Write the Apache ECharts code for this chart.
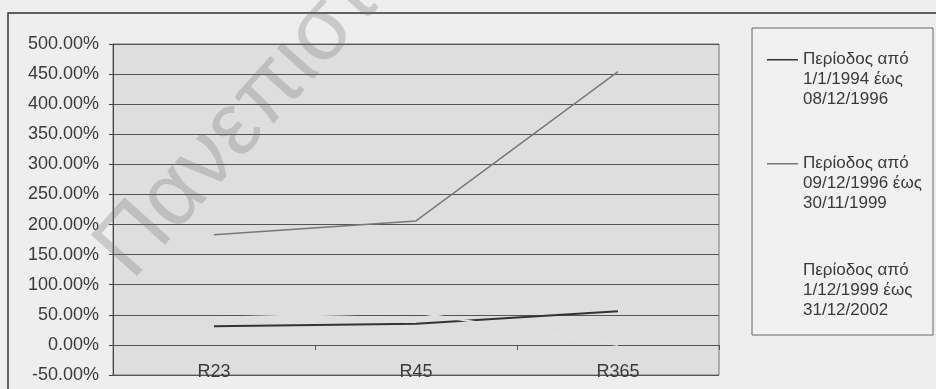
<!DOCTYPE html>
<html>
<head>
<meta charset="utf-8">
<script src="https://cdn.jsdelivr.net/npm/echarts@6/dist/echarts.min.js"></script>
<style>
html,body{margin:0;padding:0;background:#eeeeee;}
#chart{width:936px;height:389px;}
</style>
</head>
<body>
<div id="chart"></div>
<script>
// ---- data ----
var categories = ['R23', 'R45', 'R365'];
var seriesNames = [
  'Περίοδος από 1/1/1994 έως 08/12/1996',
  'Περίοδος από 09/12/1996 έως 30/11/1999',
  'Περίοδος από 1/12/1999 έως 31/12/2002'
];
var period1 = [31, 35, 56];
var period2 = [183, 206, 454];
var period3 = [45, 54, 0];
var yMin = -50, yMax = 500, yStep = 50;

var FONT = '"Liberation Sans", Arial, sans-serif';
var chart = echarts.init(document.getElementById('chart'), null, {renderer: 'canvas'});

function legendFormatter(name) {
  return name.replace(/^(\S+ \S+) (\S+ \S+) /, '$1\n$2\n');
}
var iconPath = 'path://M0,0L31,0L31,1.6L0,1.6Z M0,40';
function mkLegend(idx, top) {
  return {
    data: [seriesNames[idx]],
    left: 767, top: top, padding: 0,
    orient: 'vertical',
    itemWidth: 31, itemHeight: 40, itemGap: 0,
    icon: iconPath,
    itemStyle: {borderWidth: 0},
    selectedMode: false,
    formatter: legendFormatter,
    textStyle: {fontFamily: FONT, fontSize: 17, lineHeight: 20, color: '#3a3a3a'}
  };
}

var option = {
  animation: false,
  backgroundColor: '#eeeeee',
  textStyle: {fontFamily: FONT},
  graphic: [
    {type: 'rect', z: -10, shape: {x: 8, y: 13, width: 1000, height: 500},
     style: {fill: 'none', stroke: '#333', lineWidth: 1.5}},
    {type: 'rect', z: -10, shape: {x: 752, y: 28, width: 181, height: 307},
     style: {fill: '#f1f1f1', stroke: '#666', lineWidth: 1}},
    {type: 'text', z: 100, x: 147, y: 295, rotation: 0.84,
     style: {text: 'Πανεπιστήμιο Πειραιώς', font: '90px ' + FONT,
             fill: 'rgba(110,110,110,0.28)', textVerticalAlign: 'bottom'}}
  ],
  grid: {
    left: 113, right: 217, top: 44, bottom: 14,
    show: true, backgroundColor: '#dedede', borderColor: '#777', borderWidth: 1
  },
  legend: [mkLegend(0, 49), mkLegend(1, 153), mkLegend(2, 260)],
  xAxis: [
    {
      type: 'category', data: categories, boundaryGap: true, position: 'bottom',
      axisLine: {show: true, onZero: true, lineStyle: {color: '#555', width: 1}},
      axisTick: {show: true, length: 5, inside: false, lineStyle: {color: '#555'}},
      axisLabel: {show: false},
      splitLine: {show: false}
    },
    {
      type: 'category', data: categories, boundaryGap: true, position: 'bottom',
      axisLine: {show: false, onZero: false},
      axisTick: {show: false},
      axisLabel: {show: true, margin: -12, fontSize: 18, color: '#3a3a3a', fontFamily: FONT},
      splitLine: {show: false}
    }
  ],
  yAxis: {
    type: 'value', min: yMin, max: yMax, interval: yStep,
    axisLine: {show: true, lineStyle: {color: '#444', width: 1}},
    axisTick: {show: true, length: 4, lineStyle: {color: '#444'}},
    axisLabel: {
      margin: 14, fontSize: 18, color: '#3a3a3a', fontFamily: FONT,
      formatter: function (v) { return v.toFixed(2) + '%'; }
    },
    splitLine: {show: true, lineStyle: {color: '#555', width: 1}}
  },
  series: [
    {name: seriesNames[0], type: 'line', xAxisIndex: 0, data: period1, symbol: 'none',
     itemStyle: {color: '#333'}, lineStyle: {color: '#333', width: 2}},
    {name: seriesNames[1], type: 'line', xAxisIndex: 0, data: period2, symbol: 'none',
     itemStyle: {color: '#777'}, lineStyle: {color: '#777', width: 1.4}},
    {name: seriesNames[2], type: 'line', xAxisIndex: 0, data: period3, symbol: 'none',
     itemStyle: {color: '#f1f1f1'}, lineStyle: {color: '#e0e0e0', width: 2}}
  ]
};
chart.setOption(option);
</script>
</body>
</html>
